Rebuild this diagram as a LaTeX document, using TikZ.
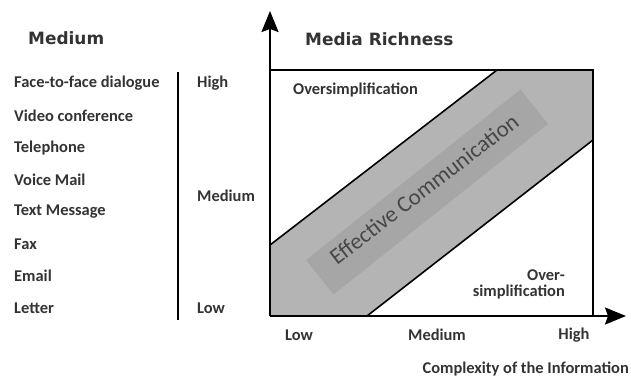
\documentclass[tikz,border=0pt]{standalone}
\usepackage{fontspec}
\setmainfont{Carlito}
\newfontfamily\headfont{DejaVu Sans}
\usetikzlibrary{arrows.meta}
\definecolor{bandgray}{HTML}{B4B4B4}
\definecolor{coregray}{HTML}{A6A6A6}
\definecolor{inkgray}{HTML}{333333}
\begin{document}
\begin{tikzpicture}[x=1bp,y=-1bp,
  lbl/.style={font=\bfseries\fontsize{16.5}{19}\selectfont, inner sep=0pt, text=inkgray},
  head/.style={font=\headfont\bfseries\fontsize{17}{20}\selectfont, inner sep=0pt, text=inkgray},
  axis/.style={line width=2pt, -{Stealth[length=21bp,width=17bp,inset=3bp]}},
  frame/.style={line width=1.8pt},
  edge/.style={line width=1.6pt}]
\useasboundingbox (0,0) rectangle (631,379);

% key points of the chart
\coordinate (O)  at (270,316);
\coordinate (Yt) at (270,11);
\coordinate (Xt) at (626,316);
\coordinate (TL) at (270,70);
\coordinate (TR) at (593,70);
\coordinate (BR) at (593,316);
\coordinate (U1) at (270,245);
\coordinate (U2) at (497,70);
\coordinate (L1) at (367,316);
\coordinate (L2) at (593,140);
\coordinate (Vt) at (178,72);
\coordinate (Vb) at (178,320);

% shaded band of effective communication
\fill[bandgray] (U1) -- (U2) -- (TR) -- (L2) -- (L1) -- (O) -- cycle;
\fill[coregray, rotate around={38.5:(427,192)}] (290,170) rectangle (564,214);
\node[rotate=37.6, font=\fontsize{23}{26}\selectfont, text=inkgray!90, inner sep=0pt] (eff) at (424,189) {Effective Communication};

% band borders and frame
\draw[edge] (U1) -- (U2);
\draw[edge] (L1) -- (L2);
\draw[frame] (TL) -- (TR) -- (BR);
\draw[axis] (O) -- (Yt);
\draw[axis] (O) -- (Xt);
\draw[line width=2.2pt] (Vt) -- (Vb);

% headings
\node[head, anchor=west] (hmed) at (28,38) {Medium};
\node[head, anchor=west] (hrich) at (305,39) {Media Richness};

% media list
\node[lbl, anchor=west] (m1) at (14,83) {Face-to-face dialogue};
\node[lbl, anchor=west] (m2) at (14,116) {Video conference};
\node[lbl, anchor=west] (m3) at (14,148) {Telephone};
\node[lbl, anchor=west] (m4) at (14,180) {Voice Mail};
\node[lbl, anchor=west] (m5) at (14,212) {Text Message};
\node[lbl, anchor=west] (m6) at (14,244) {Fax};
\node[lbl, anchor=west] (m7) at (14,276) {Email};
\node[lbl, anchor=west] (m8) at (14,308) {Letter};

% richness scale
\node[lbl, anchor=west] (rh) at (197,83) {High};
\node[lbl, anchor=west] (rm) at (197,196) {Medium};
\node[lbl, anchor=west] (rl) at (197,308) {Low};

% regions
\node[lbl, anchor=west] (os1) at (293,90) {Oversimplification};
\node[lbl, anchor=east] (os2a) at (565,275) {Over-};
\node[lbl, anchor=east] (os2b) at (565,292) {simplification};

% complexity scale
\node[lbl] (cl) at (299,335) {Low};
\node[lbl] (cm) at (437,335) {Medium};
\node[lbl] (ch) at (574,335) {High};
\node[lbl, anchor=east] (ctitle) at (629,369) {Complexity of the Information};
\end{tikzpicture}
\end{document}
